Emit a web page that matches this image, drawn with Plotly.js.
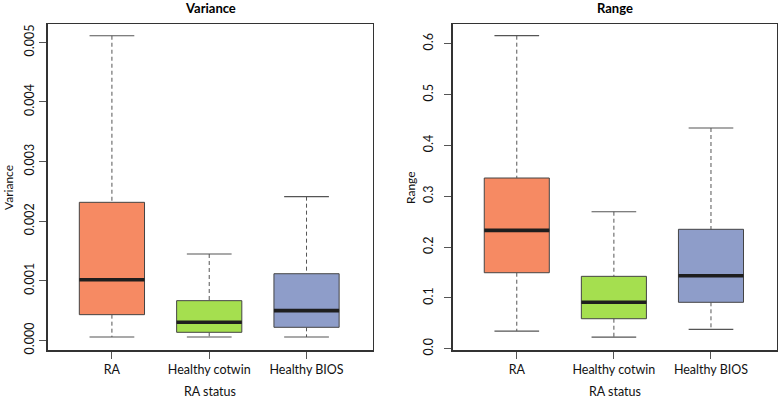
<!DOCTYPE html>
<html>
<head>
<meta charset="utf-8">
<script src="https://cdn.plot.ly/plotly-3.0.1.min.js"></script>
<style>html,body{margin:0;padding:0;background:#fff;}#chart{width:778px;height:400px;}</style>
</head>
<body>
<div id="chart"></div>
<script>
// ---- data ----
const categories = ["RA", "Healthy cotwin", "Healthy BIOS"];
const boxColors = ["#F68A63", "#A5DF4F", "#8E9DC9"];

const varLower  = [0.000055, 0.000055, 0.000055];
const varQ1     = [0.00043, 0.000134, 0.000218];
const varMedian = [0.001017, 0.000302, 0.000497];
const varQ3     = [0.002315, 0.000665, 0.001117];
const varUpper  = [0.00511, 0.001448, 0.00241];
const varTicks  = [0, 0.001, 0.002, 0.003, 0.004, 0.005];
const varTickText = ["0.000", "0.001", "0.002", "0.003", "0.004", "0.005"];

const rngLower  = [0.0348, 0.023, 0.0382];
const rngQ1     = [0.1495, 0.059, 0.0913];
const rngMedian = [0.2329, 0.0913, 0.1436];
const rngQ3     = [0.3358, 0.1424, 0.2349];
const rngUpper  = [0.6158, 0.2695, 0.4342];
const rngTicks  = [0, 0.1, 0.2, 0.3, 0.4, 0.5, 0.6];
const rngTickText = ["0.0", "0.1", "0.2", "0.3", "0.4", "0.5", "0.6"];

// ---- styles ----
const FONT = "Lato, 'Open Sans', sans-serif";
const BOXW = 0.67, CAPW = 0.46;
const positions = categories.map((c, i) => i + 1);

function panel(xref, yref, lo, q1, med, q3, hi) {
  const tr = [];
  // whiskers (dashed) and caps
  positions.forEach((p, i) => {
    tr.push({type: 'scatter', mode: 'lines', xaxis: xref, yaxis: yref, x: [p, p, null, p, p], y: [hi[i], q3[i], null, q1[i], lo[i]],
      line: {color: '#555', width: 1, dash: '4px,3px'}, hoverinfo: 'skip', showlegend: false});
    tr.push({type: 'scatter', mode: 'lines', xaxis: xref, yaxis: yref, x: [p - CAPW/2, p + CAPW/2, null, p - CAPW/2, p + CAPW/2], y: [hi[i], hi[i], null, lo[i], lo[i]],
      line: {color: '#555', width: 1.2}, hoverinfo: 'skip', showlegend: false});
  });
  // boxes
  positions.forEach((p, i) => {
    tr.push({type: 'box', xaxis: xref, yaxis: yref, x: [p], q1: [q1[i]], median: [med[i]], q3: [q3[i]],
      lowerfence: [q1[i]], upperfence: [q3[i]], width: BOXW, whiskerwidth: 0,
      fillcolor: boxColors[i], line: {color: '#444', width: 1}, hoverinfo: 'skip', showlegend: false});
  });
  // thick medians
  positions.forEach((p, i) => {
    tr.push({type: 'scatter', mode: 'lines', xaxis: xref, yaxis: yref, x: [p - BOXW/2, p + BOXW/2], y: [med[i], med[i]],
      line: {color: '#1e1e1e', width: 3.6}, hoverinfo: 'skip', showlegend: false});
  });
  return tr;
}

const traces = [].concat(
  panel('x', 'y', varLower, varQ1, varMedian, varQ3, varUpper),
  panel('x2', 'y2', rngLower, rngQ1, rngMedian, rngQ3, rngUpper)
);

const W = 778, H = 400;
const px = v => v / W, py = v => (H - v) / H;

const xbase = {range: [0.34, 3.68], tickvals: positions, ticktext: categories, showgrid: false, zeroline: false,
  showline: true, mirror: true, linecolor: '#333', linewidth: 1.3, ticks: 'outside', ticklen: 7, tickcolor: '#555',
  tickfont: {family: FONT, size: 12.5, color: '#111'}, fixedrange: true};
const ybase = {showgrid: false, zeroline: false, showline: true, mirror: true, linecolor: '#333', linewidth: 1.3,
  ticks: 'outside', ticklen: 7, tickcolor: '#555', tickangle: -90, tickfont: {family: FONT, size: 12.5, color: '#111'}, fixedrange: true};

const layout = {
  width: W, height: H,
  margin: {l: 0, r: 0, t: 0, b: 0},
  paper_bgcolor: '#fff', plot_bgcolor: '#fff',
  font: {family: FONT, size: 12, color: '#111'},
  showlegend: false,
  xaxis: Object.assign({}, xbase, {domain: [px(47.7), px(372.7)], anchor: 'y'}),
  yaxis: Object.assign({}, ybase, {domain: [py(350.3), py(24.3)], range: [-0.000168, 0.005302], tickvals: varTicks, ticktext: varTickText, anchor: 'x'}),
  xaxis2: Object.assign({}, xbase, {domain: [px(452.7), px(777)], anchor: 'y2'}),
  yaxis2: Object.assign({}, ybase, {domain: [py(350.3), py(24.3)], range: [-0.0031, 0.6382], tickvals: rngTicks, ticktext: rngTickText, anchor: 'x2', ticklabelstandoff: 6}),
  annotations: [
    {text: '<b>Variance</b>', x: px(210.2), y: py(8.5), xref: 'paper', yref: 'paper', showarrow: false, xanchor: 'center', yanchor: 'middle', font: {family: FONT, size: 13, color: '#000'}},
    {text: '<b>Range</b>', x: px(614.9), y: py(8.5), xref: 'paper', yref: 'paper', showarrow: false, xanchor: 'center', yanchor: 'middle', font: {family: FONT, size: 13, color: '#000'}},
    {text: 'Variance', x: px(8), y: py(188), xref: 'paper', yref: 'paper', showarrow: false, xanchor: 'center', yanchor: 'middle', textangle: -90, font: {family: FONT, size: 12, color: '#111'}},
    {text: 'Range', x: px(410), y: py(188), xref: 'paper', yref: 'paper', showarrow: false, xanchor: 'center', yanchor: 'middle', textangle: -90, font: {family: FONT, size: 12, color: '#111'}},
    {text: 'RA status', x: px(210.2), y: py(391.5), xref: 'paper', yref: 'paper', showarrow: false, xanchor: 'center', yanchor: 'middle', font: {family: FONT, size: 12.5, color: '#111'}},
    {text: 'RA status', x: px(614.9), y: py(391.5), xref: 'paper', yref: 'paper', showarrow: false, xanchor: 'center', yanchor: 'middle', font: {family: FONT, size: 12.5, color: '#111'}}
  ]
};

Plotly.newPlot('chart', traces, layout, {staticPlot: true, displayModeBar: false});
</script>
</body>
</html>
